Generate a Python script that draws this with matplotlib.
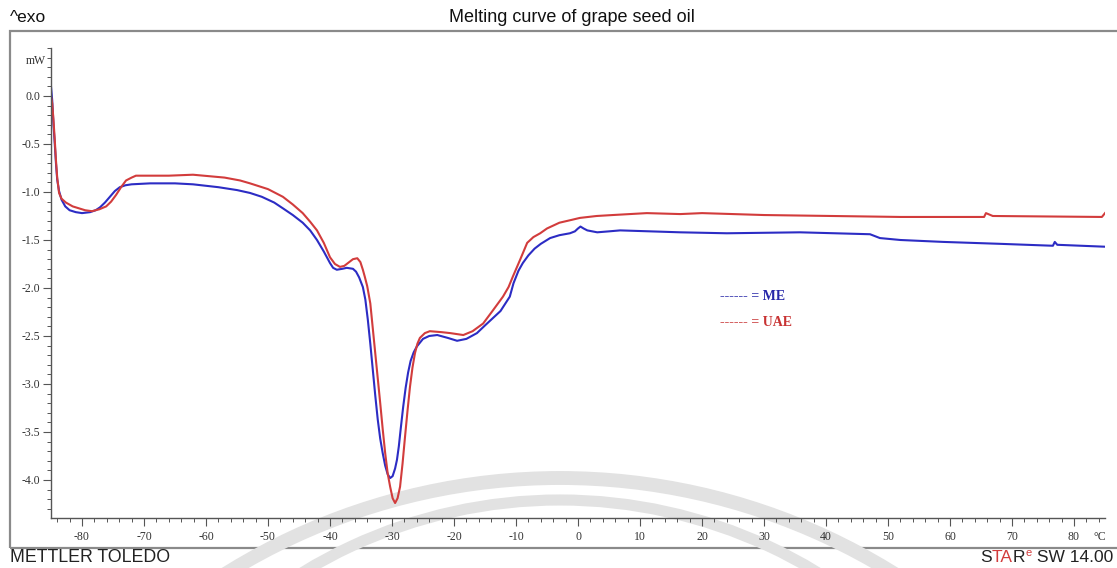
import matplotlib
matplotlib.use("Agg")
import matplotlib.pyplot as plt
import matplotlib.ticker as mticker
from matplotlib.patches import Arc, Rectangle

plt.rcParams["axes.unicode_minus"] = False

# heat flow, ME sample
temp_me = [-85.0, -84.8, -84.6, -84.4, -84.2, -84.0, -83.7, -83.3, -82.7, -82.0,
           -81.0, -80.0, -78.7, -77.8, -77.1, -76.3, -75.5, -74.7, -73.9, -73.0,
           -72.0, -69.0, -65.0, -62.1, -58.0, -55.0, -52.9, -51.0, -49.0, -47.6,
           -46.0, -44.4, -43.2, -42.1, -41.0, -40.0, -39.5, -38.9, -38.0, -37.3,
           -36.3, -35.8, -35.3, -34.7, -34.3, -33.9, -33.5, -33.1, -32.7, -32.3,
           -31.9, -31.5, -31.1, -30.7, -30.3, -29.9, -29.5, -29.2, -28.9, -28.6,
           -28.2, -27.8, -27.4, -27.0, -26.5, -26.0, -25.0, -24.0, -22.7, -21.0,
           -19.5, -18.0, -16.3, -15.0, -13.5, -12.5, -12.0, -11.0, -10.4, -9.6,
           -8.9, -8.0, -7.0, -6.0, -4.5, -3.0, -1.3, -0.5, 0.0, 0.4,
           0.9, 1.5, 3.1, 5.0, 6.8, 16.5, 24.0, 35.8, 47.1, 48.7,
           52.0, 58.9, 68.1, 76.6, 76.9, 77.3, 85.0]
hf_me = [0.10, -0.05, -0.30, -0.49, -0.70, -0.87, -0.99, -1.08, -1.15, -1.19,
         -1.21, -1.22, -1.21, -1.19, -1.16, -1.11, -1.05, -0.99, -0.95, -0.93,
         -0.92, -0.91, -0.91, -0.92, -0.95, -0.98, -1.01, -1.05, -1.11, -1.17,
         -1.24, -1.32, -1.40, -1.50, -1.62, -1.74, -1.79, -1.81, -1.80, -1.79,
         -1.80, -1.83, -1.89, -1.99, -2.12, -2.33, -2.58, -2.85, -3.12, -3.37,
         -3.57, -3.72, -3.85, -3.94, -3.98, -3.96, -3.88, -3.79, -3.65, -3.47,
         -3.24, -3.04, -2.88, -2.76, -2.67, -2.61, -2.53, -2.50, -2.49, -2.52,
         -2.55, -2.53, -2.47, -2.39, -2.30, -2.24, -2.19, -2.09, -1.95, -1.82,
         -1.74, -1.66, -1.59, -1.54, -1.48, -1.45, -1.43, -1.41, -1.38, -1.36,
         -1.38, -1.40, -1.42, -1.41, -1.40, -1.42, -1.43, -1.42, -1.44, -1.48,
         -1.50, -1.52, -1.54, -1.56, -1.52, -1.55, -1.57]

# heat flow, UAE sample
temp_uae = [-85.0, -84.8, -84.6, -84.4, -84.2, -84.0, -83.7, -83.3, -82.6, -81.5,
            -80.5, -79.5, -78.4, -77.2, -76.1, -75.3, -74.5, -73.7, -72.9, -72.0,
            -71.3, -66.0, -62.1, -57.0, -54.5, -52.9, -50.0, -47.6, -46.0, -44.4,
            -43.2, -42.1, -41.0, -40.0, -39.2, -38.4, -37.7, -37.1, -36.3, -35.6,
            -35.1, -34.7, -34.4, -34.0, -33.5, -33.1, -32.7, -32.3, -31.9, -31.5,
            -31.1, -30.7, -30.3, -29.9, -29.5, -29.1, -28.7, -28.3, -27.9, -27.5,
            -27.1, -26.7, -26.3, -25.9, -25.5, -24.7, -23.9, -22.0, -20.6, -18.5,
            -17.0, -15.3, -13.8, -12.1, -11.2, -10.5, -9.3, -8.2, -7.2, -6.1,
            -5.0, -3.0, -1.0, 0.3, 3.0, 5.6, 11.1, 16.5, 20.0, 30.0,
            52.0, 65.5, 65.8, 66.9, 84.5, 85.0]
hf_uae = [0.00, -0.08, -0.25, -0.45, -0.67, -0.85, -1.01, -1.07, -1.11, -1.15,
          -1.17, -1.19, -1.20, -1.18, -1.15, -1.10, -1.03, -0.95, -0.88, -0.85,
          -0.83, -0.83, -0.82, -0.85, -0.88, -0.91, -0.97, -1.05, -1.13, -1.22,
          -1.31, -1.40, -1.53, -1.68, -1.75, -1.78, -1.77, -1.74, -1.70, -1.69,
          -1.73, -1.81, -1.88, -1.98, -2.16, -2.42, -2.68, -2.94, -3.20, -3.47,
          -3.72, -3.93, -4.07, -4.19, -4.24, -4.19, -4.07, -3.83, -3.55, -3.28,
          -3.03, -2.83, -2.68, -2.58, -2.52, -2.47, -2.45, -2.46, -2.47, -2.49,
          -2.45, -2.37, -2.24, -2.09, -1.99, -1.88, -1.70, -1.53, -1.47, -1.43,
          -1.38, -1.32, -1.29, -1.27, -1.25, -1.24, -1.22, -1.23, -1.22, -1.24,
          -1.26, -1.26, -1.22, -1.25, -1.26, -1.22]

W, H = 1117, 568
fig = plt.figure(figsize=(W / 100, H / 100), dpi=100)

# background layer in pixel units: frame and watermark arcs
bg = fig.add_axes([0, 0, 1, 1], zorder=-1)
bg.set_xlim(0, W)
bg.set_ylim(0, H)
bg.axis("off")
bg.add_patch(Rectangle((10, 20), W + 20, 517, fill=False, edgecolor="#8a8a8a", linewidth=1.6))
bg.add_patch(Arc((560, -542), 1264, 1264, theta1=40, theta2=140,
                 color="#e2e2e2", linewidth=10))
bg.add_patch(Arc((560, -426), 988, 988, theta1=40, theta2=140,
                 color="#e2e2e2", linewidth=8))

ax = fig.add_axes([51 / W, 1 - 518 / H, (1105 - 51) / W, (518 - 48) / H])
ax.set_facecolor("none")

ax.plot(temp_me, hf_me, color="#2c2cc4", linewidth=1.5)
ax.plot(temp_uae, hf_uae, color="#d23c3c", linewidth=1.5)

ax.set_xlim(-85, 85)
ax.set_ylim(-4.396, 0.5)

for s in ["top", "right"]:
    ax.spines[s].set_visible(False)
for s in ["left", "bottom"]:
    ax.spines[s].set_color("#555555")
    ax.spines[s].set_linewidth(1.0)

ax.xaxis.set_major_locator(mticker.FixedLocator(range(-80, 81, 10)))
ax.xaxis.set_minor_locator(mticker.MultipleLocator(2))
ax.yaxis.set_major_locator(mticker.FixedLocator([0.0, -0.5, -1.0, -1.5, -2.0, -2.5, -3.0, -3.5, -4.0]))
ax.yaxis.set_minor_locator(mticker.MultipleLocator(0.1))
ax.xaxis.set_major_formatter(mticker.FormatStrFormatter("%d"))
ax.yaxis.set_major_formatter(mticker.FormatStrFormatter("%.1f"))

ax.tick_params(which="major", length=6, width=0.8, color="#555555", labelsize=8.5,
               labelcolor="#333333")
ax.tick_params(which="minor", length=3, width=0.7, color="#555555")
ax.tick_params(axis="x", which="major", pad=3)
ax.tick_params(axis="y", which="major", pad=2)
for lab in ax.get_xticklabels() + ax.get_yticklabels():
    lab.set_family("Liberation Serif")

serif = "Liberation Serif"
fig.text(36 / W, 1 - 61 / H, "mW", family=serif, fontsize=8.5, color="#333333",
         ha="center", va="center")
fig.text(1100 / W, 1 - 537 / H, "°C", family=serif, fontsize=8.5, color="#333333",
         ha="center", va="center")

# legend written as text
fig.text(720 / W, 1 - 296 / H, "------ = ME", family=serif, fontsize=10, fontweight="bold",
         color="#2626a8", va="center")
fig.text(720 / W, 1 - 322 / H, "------ = UAE", family=serif, fontsize=10, fontweight="bold",
         color="#c83232", va="center")

sans = "Liberation Sans"
fig.text(10 / W, 1 - 17 / H, "^exo", family=sans, fontsize=12.5, va="center", color="#111111")
fig.text(572 / W, 1 - 17 / H, "Melting curve of grape seed oil", family=sans, fontsize=13,
         ha="center", va="center", color="#111111")
fig.text(10 / W, 1 - 558 / H, "METTLER TOLEDO", family=sans, fontsize=12.8, va="center",
         color="#222222")

# STARe SW 14.00, drawn right to left so each piece ends where the next begins
renderer = fig.canvas.get_renderer()
pieces = [(" SW 14.00", "#222222", 12.5, 0), ("e", "#d23c3c", 8, 5), ("R", "#222222", 12.5, 0),
          ("TA", "#d23c3c", 12.5, 0), ("S", "#222222", 12.5, 0)]
x_right = 1113
for txt, col, fs, dy in pieces:
    t = fig.text(x_right / W, (H - 558 + dy) / H, txt, family=sans, fontsize=fs,
                 color=col, ha="right", va="center")
    x_right = t.get_window_extent(renderer).x0

fig.savefig("out.png", dpi=100)
